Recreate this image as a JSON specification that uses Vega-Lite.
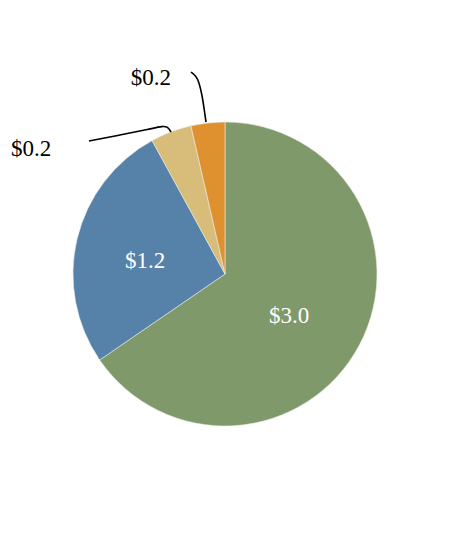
{
  "$schema": "https://vega.github.io/schema/vega-lite/v6.json",
  "width": 450,
  "height": 548,
  "padding": 0,
  "autosize": {"type": "fit", "contains": "padding"},
  "background": "white",
  "config": {"view": {"stroke": null}},
  "datasets": {
    "slices": [
      {"category": "A", "rank": 1, "value": 3.0},
      {"category": "B", "rank": 2, "value": 1.22},
      {"category": "C", "rank": 3, "value": 0.2},
      {"category": "D", "rank": 4, "value": 0.165}
    ],
    "leaders": [
      {"series": "D", "step": 1, "x": -0.224, "y": 1.329},
      {"series": "D", "step": 2, "x": -0.191, "y": 1.303},
      {"series": "D", "step": 3, "x": -0.171, "y": 1.263},
      {"series": "D", "step": 4, "x": -0.151, "y": 1.178},
      {"series": "D", "step": 5, "x": -0.138, "y": 1.092},
      {"series": "D", "step": 6, "x": -0.125, "y": 1.0},
      {"series": "C", "step": 1, "x": -0.895, "y": 0.875},
      {"series": "C", "step": 2, "x": -0.691, "y": 0.914},
      {"series": "C", "step": 3, "x": -0.493, "y": 0.954},
      {"series": "C", "step": 4, "x": -0.408, "y": 0.974},
      {"series": "C", "step": 5, "x": -0.375, "y": 0.967},
      {"series": "C", "step": 6, "x": -0.355, "y": 0.934}
    ],
    "labels": [
      {"series": "A", "x": 0.421, "y": -0.276, "text": "$3.0", "inside": true},
      {"series": "B", "x": -0.526, "y": 0.086, "text": "$1.2", "inside": true},
      {"series": "D", "x": -0.487, "y": 1.289, "text": "$0.2", "inside": false},
      {"series": "C", "x": -1.276, "y": 0.822, "text": "$0.2", "inside": false}
    ]
  },
  "layer": [
    {
      "data": {"name": "slices"},
      "mark": {"type": "arc", "outerRadius": 152, "stroke": "#e8ece4", "strokeWidth": 0.6},
      "encoding": {
        "theta": {"field": "value", "type": "quantitative", "stack": true},
        "order": {"field": "rank", "type": "quantitative"},
        "color": {
          "field": "category",
          "type": "nominal",
          "scale": {"domain": ["A", "B", "C", "D"], "range": ["#7f996a", "#5681a8", "#d7bc7a", "#e0912f"]},
          "legend": null
        }
      }
    },
    {
      "data": {"name": "leaders"},
      "mark": {"type": "line", "color": "black", "strokeWidth": 1.6, "interpolate": "basis"},
      "encoding": {
        "x": {"field": "x", "type": "quantitative", "scale": {"domain": [-1.48, 1.48], "nice": false, "zero": false}, "axis": null},
        "y": {"field": "y", "type": "quantitative", "scale": {"domain": [-1.803, 1.803], "nice": false, "zero": false}, "axis": null},
        "detail": {"field": "series"},
        "order": {"field": "step", "type": "quantitative"}
      }
    },
    {
      "data": {"name": "labels"},
      "mark": {"type": "text", "font": "Liberation Serif", "fontSize": 23},
      "encoding": {
        "x": {"field": "x", "type": "quantitative", "scale": {"domain": [-1.48, 1.48], "nice": false, "zero": false}, "axis": null},
        "y": {"field": "y", "type": "quantitative", "scale": {"domain": [-1.803, 1.803], "nice": false, "zero": false}, "axis": null},
        "text": {"field": "text"},
        "color": {"condition": {"test": "datum.inside", "value": "white"}, "value": "black"}
      }
    }
  ]
}
